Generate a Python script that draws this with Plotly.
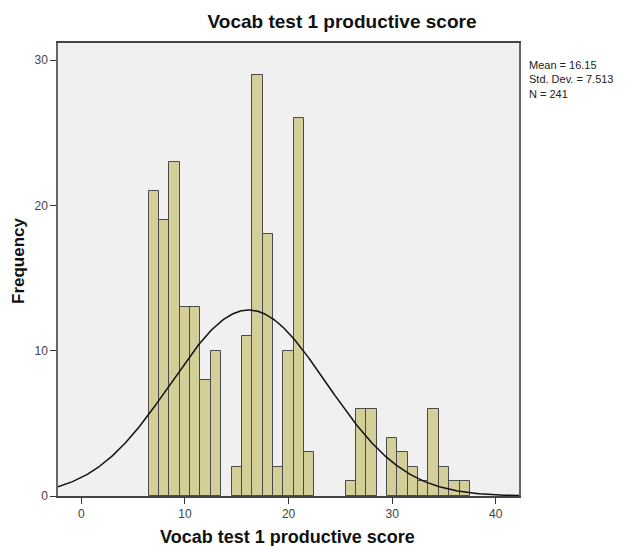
import numpy as np
import plotly.graph_objects as go

scores = [7, 8, 9, 10, 11, 12, 13, 15, 16, 17, 18, 19, 20, 21, 22,
          26, 27, 28, 30, 31, 32, 33, 34, 35, 36, 37]
counts = [21, 19, 23, 13, 13, 8, 10, 2, 11, 29, 18, 2, 10, 26, 3,
          1, 6, 6, 4, 3, 2, 1, 6, 2, 1, 1]
mean_val = 16.15
sd_val = 7.513
n_val = 241
x_ticks = [0, 10, 20, 30, 40]
y_ticks = [0, 10, 20, 30]

x_range = [-2.25, 42.24]
y_range = [0, 31.17]

xs = np.linspace(x_range[0], x_range[1], 400)
ys = n_val * 1.0 / (sd_val * np.sqrt(2 * np.pi)) * np.exp(-0.5 * ((xs - mean_val) / sd_val) ** 2)

W, H = 632, 546
L, R, T, B = 58, 113, 43, 50
pw, ph = W - L - R, H - T - B

fig = go.Figure()
fig.add_trace(go.Bar(x=scores, y=counts, width=1,
                     marker=dict(color="#D4CF99", line=dict(color="#4a4a4a", width=1)),
                     showlegend=False, hoverinfo="x+y"))
fig.add_trace(go.Scatter(x=xs, y=ys, mode="lines", line=dict(color="#111111", width=1.5),
                         showlegend=False, hoverinfo="skip"))

fig.update_layout(
    width=W, height=H,
    margin=dict(l=L, r=R, t=T, b=B),
    paper_bgcolor="white", plot_bgcolor="#F0F0F0",
    font=dict(family="Liberation Sans, Arial, sans-serif", color="#222222", size=11),
    title=dict(text="<b>Vocab test 1 productive score</b>", x=342/W, xanchor="center",
               y=1 - 21/H, yanchor="middle", font=dict(size=19, color="#111111")),
    bargap=0,
    xaxis=dict(range=x_range, tickvals=x_ticks, ticks="outside", ticklen=6, tickcolor="#333",
               showgrid=False, zeroline=False, showline=True, linecolor="#444", linewidth=1.5,
               mirror=True, automargin=False,
               tickfont=dict(size=12, color="#444444")),
    yaxis=dict(range=y_range, tickvals=y_ticks, ticks="outside", ticklen=6, tickcolor="#333",
               showgrid=False, zeroline=False, showline=True, linecolor="#666", linewidth=1.5,
               mirror=True, automargin=False,
               tickfont=dict(size=12, color="#444444")),
    annotations=[
        dict(text="Mean = 16.15<br>Std. Dev. = 7.513<br>N = 241",
             xref="paper", yref="paper", x=(527 - L) / pw, y=1 - (57 - T) / ph,
             xanchor="left", yanchor="top", align="left", showarrow=False,
             font=dict(size=11, color="#222222")),
        dict(text="<b>Vocab test 1 productive score</b>", xref="paper", yref="paper",
             x=(287 - L) / pw, y=-(537 - (H - B)) / ph, xanchor="center", yanchor="middle",
             showarrow=False, font=dict(size=18, color="#111111")),
        dict(text="<b>Frequency</b>", xref="paper", yref="paper", textangle=-90,
             x=-(L - 18) / pw, y=1 - (261 - T) / ph, xanchor="center", yanchor="middle",
             showarrow=False, font=dict(size=17, color="#111111")),
    ],
)

fig.write_html("out.html")
